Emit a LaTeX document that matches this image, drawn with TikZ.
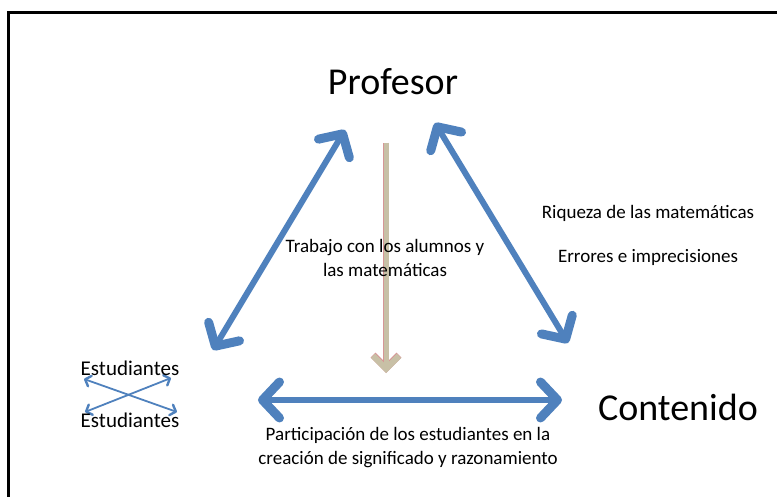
\documentclass[tikz,border=0pt]{standalone}
\usepackage{fontspec}
\setmainfont{Carlito}
\usetikzlibrary{arrows.meta,positioning}
\definecolor{arrowblue}{RGB}{79,129,189}
\definecolor{arrowtan}{RGB}{200,192,166}
\definecolor{tanedge}{RGB}{214,150,150}

\begin{document}
\begin{tikzpicture}[x=1pt, y=-1pt,
    corner/.style={font=\fontsize{38}{45}\selectfont, inner sep=0pt},
    label/.style={font=\fontsize{19}{24}\selectfont, inner sep=0pt, align=center},
    student/.style={font=\fontsize{21}{24}\selectfont, inner sep=0pt},
    bigarrow/.style={arrowblue, line width=6pt, line cap=round,
        {Straight Barb[length=17pt, width=36pt, line width=9pt, round]}-{Straight Barb[length=17pt, width=36pt, line width=9pt, round]}},
    smallarrow/.style={arrowblue, line width=1.8pt,
        {Straight Barb[length=5pt, width=11pt, line width=2.4pt, round]}-{Straight Barb[length=5pt, width=11pt, line width=2.4pt, round]}}
]
    \useasboundingbox (0,0) rectangle (777,497);

    % Frame
    \draw[line width=3pt] (777,13) -- (8,13) -- (8,497);

    % Arrow ends
    \coordinate (pl) at (345,130);
    \coordinate (pr) at (435,123);
    \coordinate (el) at (213,350);
    \coordinate (cr) at (568,343);
    \coordinate (hl) at (258,400);
    \coordinate (hr) at (562,400);
    \coordinate (dt) at (386,143);
    \coordinate (db) at (386,373);
    \coordinate (s1) at (84,379);
    \coordinate (s2) at (177,412);
    \coordinate (s3) at (85,412);
    \coordinate (s4) at (171,378);

    % Arrows
    \draw[bigarrow] (el) -- (pl);
    \draw[bigarrow] (pr) -- (cr);
    \draw[bigarrow] (hl) -- (hr);
    \draw[tanedge, line width=6pt, -{Straight Barb[length=13pt, width=26pt, line width=7pt]}] (dt) -- (db);
    \draw[arrowtan, line width=5pt, -{Straight Barb[length=13pt, width=26pt, line width=6pt]}] (dt) -- (db);

    % Between the students
    \draw[smallarrow] (s1) -- (s2);
    \draw[smallarrow] (s3) -- (s4);

    % Corners of the triangle
    \node[corner] (prof) at (393,82) {Profesor};
    \node[corner] (cont) at (678,407) {Contenido};
    \node[student] (est1) at (130,368) {Estudiantes};
    \node[student] (est2) at (130,420) {Estudiantes};

    % Texts on the sides
    \node[label] (trabajo) at (385,258) {Trabajo con los alumnos y\\las matemáticas};
    \node[label] (riqueza) at (648,213) {Riqueza de las matemáticas};
    \node[label] (errores) at (648,257) {Errores e imprecisiones};
    \node[label] (partic) at (408,448) {Participación de los estudiantes en la\\creación de significado y razonamiento};
\end{tikzpicture}
\end{document}
